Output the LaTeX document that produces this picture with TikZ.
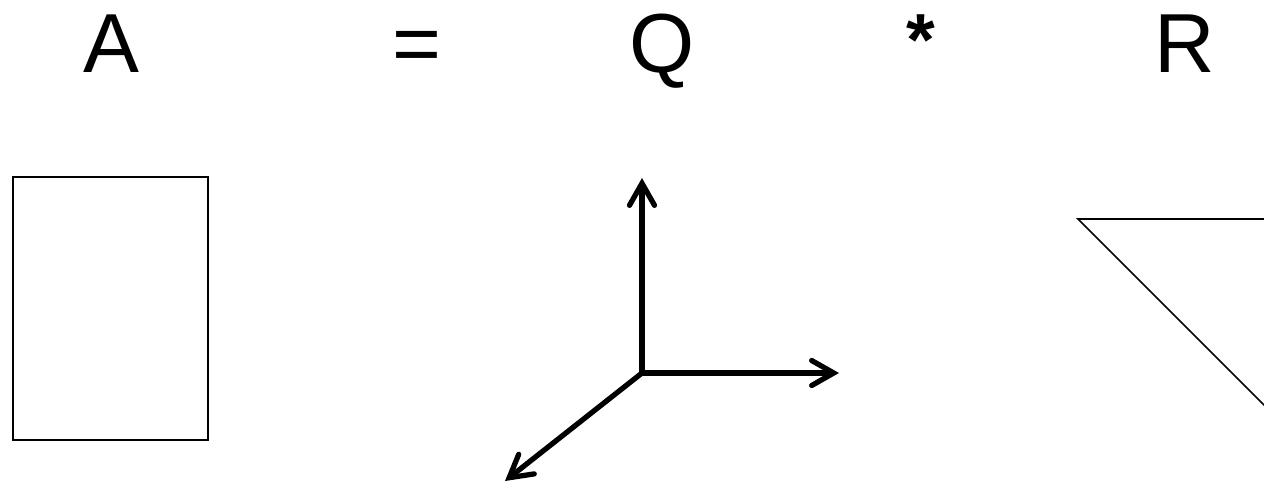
\documentclass[tikz,border=0pt]{standalone}
\usepackage{fontspec}
\setmainfont{Liberation Sans}
\usetikzlibrary{arrows.meta,positioning}

\begin{document}
\begin{tikzpicture}[
  x={(0.02cm,0)}, y={(0,-0.02cm)},
  sym/.style={anchor=base, inner sep=0pt, font=\fontsize{47.7}{50}\selectfont},
  frame/.style={draw, line width=1.1pt},
  axis/.style={line width=3pt, line cap=round,
               -{Straight Barb[length=4.4mm, width=5mm, line cap=round]}}
]
\clip (0,0) rectangle (1264,483);
\node[sym] (matA) at (111,73) {A};
\node[sym] (eq)   at (417,73) {=};
\node[sym] (matQ) at (662,73) {Q};
\node[sym, font=\fontsize{42}{44}\selectfont\bfseries] (times) at (921,66) {*};
\node[sym] (matR) at (1185,73) {R};
\draw[frame] (13,177) rectangle (208,440);
\coordinate (o) at (642,373);
\coordinate (up) at (642,178);
\coordinate (right) at (839,373);
\coordinate (down) at (505,481);
\draw[axis] (o)--(up); \draw[axis] (o)--(right); \draw[axis] (o)--(down);
\draw[frame, line width=0.9pt] (1078,219) -- (1320,219) -- (1320,461) -- cycle;
\end{tikzpicture}
\end{document}
